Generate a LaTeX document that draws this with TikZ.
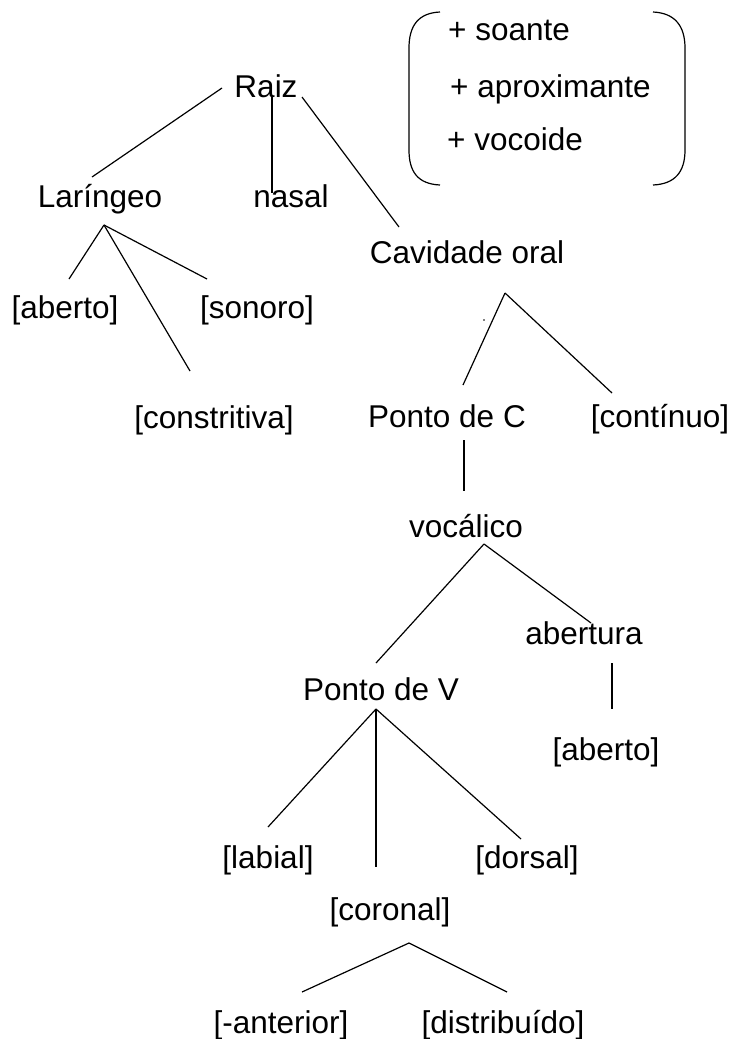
\documentclass[tikz,border=0pt]{standalone}
\usepackage{fontspec}
\setmainfont{Liberation Sans}

\begin{document}
\begin{tikzpicture}
[x=1pt,y=-1pt,%
  lineDecorate/.style={-,line width=1.2pt},%
  labelDecorate/.style={anchor=base,inner sep=0pt,font=\fontsize{31.5}{38}\selectfont},%
  featDecorate/.style={anchor=base west,inner sep=0pt,font=\fontsize{31.5}{38}\selectfont}]
\useasboundingbox (0,0) rectangle (731,1039);
%% labels
\foreach \nodename/\x/\y/\txt in {raiz/266/97/Raiz, lar/100/207/Laríngeo, nas/291/207/nasal,
  cav/467/263/{Cavidade oral}, abL/65/318/[aberto], son/257/318/[sonoro],
  con/214/428/[constritiva], pc/447/427/{Ponto de C}, cont/660/427/[contínuo],
  voc/466/537/vocálico, abe/584/644/abertura, pv/381/700/{Ponto de V},
  abR/606/760/[aberto], lab/268/868/[labial], dor/527/868/[dorsal],
  cor/390/920/[coronal], ant/281/1033/[-anterior], dis/503/1033/[distribuído]}
{
  \node (\nodename) at (\x,\y) [labelDecorate] {\txt};
}
%% features in brackets
\foreach \nodename/\x/\y/\txt in {soante/448/40/+ soante, aprox/450/97/+ aproximante, vocoide/447/150/+ vocoide}
{
  \node (\nodename) at (\x,\y) [featDecorate] {\txt};
}
\draw[lineDecorate] (440,12) .. controls (418,13) and (409,26) .. (409,48) -- (409,150)
  .. controls (409,172) and (418,184) .. (440,185);
\draw[lineDecorate] (653,12) .. controls (675,13) and (685,26) .. (685,48) -- (685,150)
  .. controls (685,172) and (675,184) .. (653,185);
%% line ends
\foreach \cname/\x/\y in {raizA/222/88, larA/92/177, raizB/272/97, nasA/272/193,
  raizC/302/97, cavA/399/227, larT/104/225, abA/69/279, conA/190/371, sonA/207/279,
  cavT/505/293, pcA/463/385, contA/612/393, pcB/464/440, vocA/464/491,
  vocT/484/544, pvA/376/663, abeA/591/623, abeB/612/663, abtA/612/709,
  pvT/376/709, labA/268/827, corA/376/867, dorA/521/839,
  corT/409/943, antA/302/992, disA/507/992}
{
  \coordinate (\cname) at (\x,\y);
}
%% edges or lines
\path
\foreach \startnode/\endnode in {raizA/larA, raizB/nasA, raizC/cavA, larT/abA, larT/conA,
  larT/sonA, cavT/pcA, cavT/contA, pcB/vocA, vocT/pvA, vocT/abeA, abeB/abtA,
  pvT/labA, pvT/corA, pvT/dorA, corT/antA, corT/disA}
{
  (\startnode) edge[lineDecorate] (\endnode)
};
\fill (484,320) circle (0.8);
\end{tikzpicture}
\end{document}
